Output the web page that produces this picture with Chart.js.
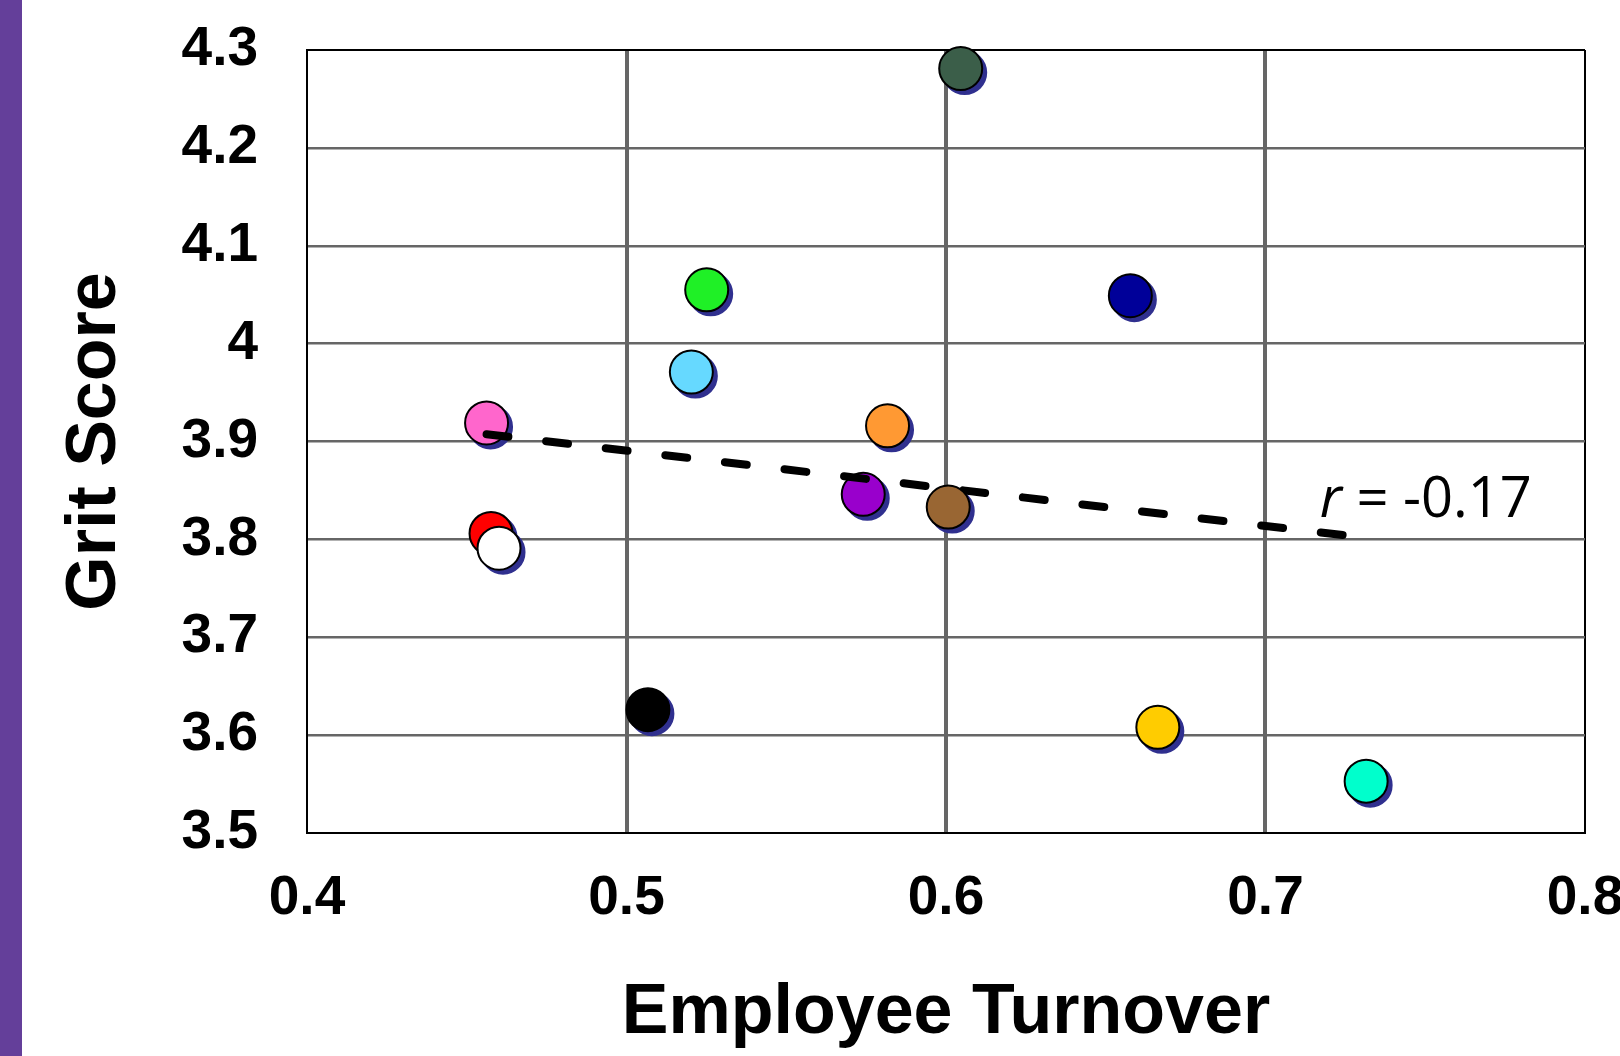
<!DOCTYPE html>
<html>
<head>
<meta charset="utf-8">
<title>Grit Score vs Employee Turnover</title>
<script src="https://cdn.jsdelivr.net/npm/chart.js@4.4.1/dist/chart.umd.min.js"></script>
<style>
  html, body { margin: 0; padding: 0; background: #ffffff; overflow: hidden; width: 1620px; height: 1056px; }
  #wrap { position: absolute; left: 0; top: 0; width: 1660px; height: 1056px; }
  #accent { position: absolute; left: 0; top: 0; width: 22px; height: 1056px; background: #643F9A; }
</style>
</head>
<body>
<div id="wrap"><canvas id="chart" width="1660" height="1056"></canvas></div>
<div id="accent"></div>
<script>
// Axis tick labels
const xTickLabels = ['0.4', '0.5', '0.6', '0.7', '0.8'];
const yTickLabels = ['3.5', '3.6', '3.7', '3.8', '3.9', '4', '4.1', '4.2', '4.3'];

// One point per team: turnover rate and mean grit score
const turnover  = [0.6046, 0.5251, 0.6577, 0.5203, 0.4562, 0.5817, 0.5741, 0.6007, 0.4576, 0.4601, 0.5067, 0.6663, 0.7315];
const gritScore = [4.281,  4.055,  4.049,  3.971,  3.919,  3.916,  3.846,  3.833,  3.806,  3.791,  3.626,  3.608,  3.553];
const pointColors = ['#3B5E49', '#1FF026', '#000099', '#66D9FF', '#FF66CC', '#FF9933', '#9900CC',
                     '#996633', '#FF0000', '#FFFFFF', '#000000', '#FFCC00', '#00FFCC'];

const correlationText = ' = -0.17';

// Least-squares fit drawn across the range of the data
function leastSquares(xs, ys) {
  const n = xs.length;
  const mx = xs.reduce((a, b) => a + b, 0) / n;
  const my = ys.reduce((a, b) => a + b, 0) / n;
  let sxy = 0, sxx = 0;
  for (let i = 0; i < n; i++) { sxy += (xs[i] - mx) * (ys[i] - my); sxx += (xs[i] - mx) ** 2; }
  const slope = sxy / sxx;
  return { slope, intercept: my - slope * mx };
}
const fit = leastSquares(turnover, gritScore);
const xLo = Math.min(...turnover), xHi = Math.max(...turnover);
const trendPoints = [xLo, xHi].map(x => ({ x, y: fit.intercept + fit.slope * x }));

// Points drawn on top of the trend line
const raisedPoints = [7];

const allPoints = turnover.map((x, i) => ({ x, y: gritScore[i] }));
const lowerIdx = allPoints.map((_, i) => i).filter(i => !raisedPoints.includes(i));

const markerStyle = { pointRadius: 21.5, pointHoverRadius: 21.5, pointBorderWidth: 2, pointBorderColor: '#000000', clip: false };

const dropShadow = {
  id: 'dropShadow',
  beforeDatasetDraw(chart, args) {
    if (chart.data.datasets[args.index].isShadow) { chart.ctx.save(); chart.ctx.translate(4, 4); }
  },
  afterDatasetDraw(chart, args) {
    if (chart.data.datasets[args.index].isShadow) chart.ctx.restore();
  }
};

const correlationLabel = {
  id: 'correlationLabel',
  afterDatasetsDraw(chart) {
    const { ctx, scales: { x, y } } = chart;
    const px = x.getPixelForValue(0.717);
    const py = y.getPixelForValue(3.8228);
    ctx.save();
    ctx.fillStyle = '#000000';
    ctx.textAlign = 'left';
    ctx.textBaseline = 'alphabetic';
    ctx.font = 'italic 56px "Open Sans"';
    ctx.fillText('r', px, py);
    const w = ctx.measureText('r').width;
    ctx.font = '56px "Open Sans"';
    ctx.fillText(correlationText, px + w, py);
    ctx.restore();
  }
};

const tickFont = { family: '"Liberation Sans", Arial, sans-serif', size: 55, weight: 'bold', lineHeight: 1 };
const titleFont = { family: '"Liberation Sans", Arial, sans-serif', size: 70, weight: 'bold', lineHeight: 1 };

new Chart(document.getElementById('chart'), {
  type: 'scatter',
  data: {
    datasets: [
      Object.assign({
        isShadow: true,
        data: allPoints,
        pointBackgroundColor: '#30308F',
        order: 5
      }, markerStyle, { pointBorderColor: '#30308F' }),
      Object.assign({
        data: lowerIdx.map(i => allPoints[i]),
        pointBackgroundColor: lowerIdx.map(i => pointColors[i]),
        order: 4
      }, markerStyle),
      {
        data: trendPoints,
        showLine: true,
        borderColor: '#000000',
        borderWidth: 8,
        borderDash: [22, 38],
        borderCapStyle: 'round',
        pointRadius: 0,
        pointHoverRadius: 0,
        clip: false,
        order: 3
      },
      Object.assign({
        data: raisedPoints.map(i => allPoints[i]),
        pointBackgroundColor: raisedPoints.map(i => pointColors[i]),
        order: 2
      }, markerStyle)
    ]
  },
  options: {
    responsive: false,
    animation: false,
    events: [],
    devicePixelRatio: 1,
    layout: { padding: { left: 0, top: 50, right: 75, bottom: 0 } },
    plugins: { legend: { display: false }, tooltip: { enabled: false } },
    scales: {
      x: {
        type: 'linear',
        min: 0.4, max: 0.8,
        // fixed axis band; end labels may overhang the plot edges
        afterFit(scale) { scale.height = 223; scale.paddingLeft = 0; scale.paddingRight = 0; },
        ticks: {
          stepSize: 0.1,
          padding: 38.5,
          color: '#000000',
          font: tickFont,
          maxRotation: 0,
          autoSkip: false,
          callback: (v, i) => xTickLabels[i]
        },
        grid: {
          drawTicks: false,
          color: c => (c.index === 0 || c.index === xTickLabels.length - 1) ? '#000000' : '#666666',
          lineWidth: c => (c.index === 0 || c.index === xTickLabels.length - 1) ? 2 : 4
        },
        border: { display: true, color: '#000000', width: 2 },
        title: {
          display: true,
          text: 'Employee Turnover',
          color: '#000000',
          font: titleFont,
          padding: { top: 0, bottom: 7 }
        }
      },
      y: {
        type: 'linear',
        min: 3.5, max: 4.3,
        afterFit(scale) { scale.width = 307; scale.paddingTop = 0; scale.paddingBottom = 0; },
        ticks: {
          stepSize: 0.1,
          padding: 49,
          color: '#000000',
          font: tickFont,
          autoSkip: false,
          callback: (v, i) => yTickLabels[i]
        },
        grid: {
          drawTicks: false,
          color: c => (c.index === 0 || c.index === yTickLabels.length - 1) ? '#000000' : '#666666',
          lineWidth: c => (c.index === 0 || c.index === yTickLabels.length - 1) ? 2 : 2.5
        },
        border: { display: true, color: '#000000', width: 2 },
        title: {
          display: true,
          text: 'Grit Score',
          color: '#000000',
          font: titleFont,
          padding: { top: 60.5, bottom: 0 }
        }
      }
    }
  },
  plugins: [dropShadow, correlationLabel]
});
</script>
</body>
</html>
